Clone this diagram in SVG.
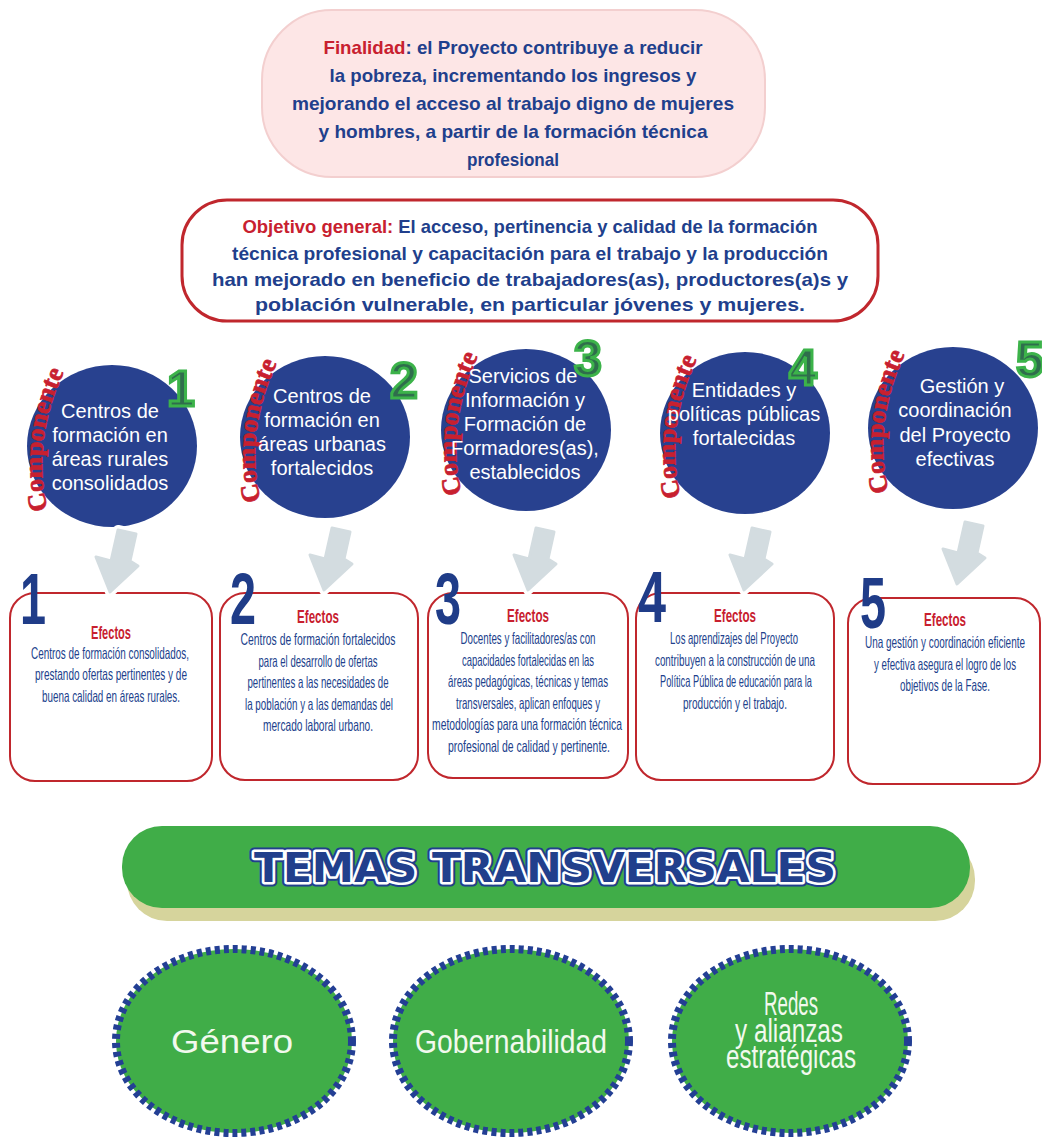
<svg xmlns="http://www.w3.org/2000/svg" width="1042" height="1137" viewBox="0 0 1042 1137">
<defs>
<style>
.nv{fill:#213f8c;font-family:"Liberation Sans",Arial,sans-serif;font-weight:bold;font-size:19px;text-anchor:middle}
.rd{fill:#c8202f}
.ct{fill:#fff;font-family:"Liberation Sans",Arial,sans-serif;font-size:20px;text-anchor:middle}
.comp{fill:#c8202f;stroke:#c8202f;stroke-width:0.7;font-family:"Liberation Serif","Times New Roman",serif;font-weight:bold;font-size:26px}
.badge{fill:#2f6e4c;stroke:#3cb34a;stroke-width:3;font-family:"Liberation Sans",Arial,sans-serif;font-weight:bold;font-size:50px;text-anchor:middle}
.circ{fill:#28418f}
.box{fill:#fff;stroke:#c0272d;stroke-width:2}
.big{fill:#1f3c88;font-family:"Liberation Sans",Arial,sans-serif;font-weight:bold;font-size:72px}
.ef{fill:#c8202f;font-family:"Liberation Sans",Arial,sans-serif;font-weight:bold;font-size:18px;text-anchor:middle}
.et{fill:#213f8c;font-family:"Liberation Sans",Arial,sans-serif;font-size:16.5px;text-anchor:middle}
.halo{fill:#fff;stroke:#fff;stroke-width:10;stroke-linejoin:round}
.arr{fill:#d3dce0;stroke:#d3dce0;stroke-width:3;stroke-linejoin:round}
.tc{fill:#40ad48;stroke:#233f94;stroke-width:8;stroke-dasharray:5 4}
.tt{fill:#f2f9ee;font-family:"Liberation Sans",Arial,sans-serif;font-size:33px;text-anchor:middle}
</style>
<path id="arw" d="M0,0 L18,4 L12,31 L20,36 L-8,62 L-22,27 L-7,31 Z"/>
<path id="cp1" d="M50,518 Q28,442 68,364"/>
<path id="cp2" d="M263,509 Q241,433 281,355"/>
<path id="cp3" d="M464,502 Q442,426 482,348"/>
<path id="cp4" d="M683,505 Q661,429 701,351"/>
<path id="cp5" d="M891,500 Q869,424 909,346"/>
</defs>
<rect width="1042" height="1137" fill="#fff"/>

<g id="finalidad">
<rect x="262" y="10" width="503" height="167" rx="70" fill="#fde6e6" stroke="#f3cfcf" stroke-width="2"/>
<text class="nv" x="513" y="54" textLength="379" lengthAdjust="spacingAndGlyphs"><tspan class="rd">Finalidad</tspan>: el Proyecto contribuye a reducir</text>
<text class="nv" x="513" y="82" textLength="367" lengthAdjust="spacingAndGlyphs">la pobreza, incrementando los ingresos y</text>
<text class="nv" x="513" y="110" textLength="442" lengthAdjust="spacingAndGlyphs">mejorando el acceso al trabajo digno de mujeres</text>
<text class="nv" x="513" y="138" textLength="389" lengthAdjust="spacingAndGlyphs">y hombres, a partir de la formación técnica</text>
<text class="nv" x="513" y="166" textLength="92" lengthAdjust="spacingAndGlyphs">profesional</text>
</g>

<g id="objetivo">
<rect x="182" y="200" width="696" height="121" rx="45" fill="#fff" stroke="#c0272d" stroke-width="3"/>
<text class="nv" x="530" y="233" textLength="575" lengthAdjust="spacingAndGlyphs"><tspan class="rd">Objetivo general:</tspan> El acceso, pertinencia y calidad de la formación</text>
<text class="nv" x="530" y="260" textLength="596" lengthAdjust="spacingAndGlyphs">técnica profesional y capacitación para el trabajo y la producción</text>
<text class="nv" x="530" y="286" textLength="636" lengthAdjust="spacingAndGlyphs">han mejorado en beneficio de trabajadores(as), productores(a)s y</text>
<text class="nv" x="530" y="311" textLength="550" lengthAdjust="spacingAndGlyphs">población vulnerable, en particular jóvenes y mujeres.</text>
</g>

<g id="comp1">
<ellipse class="circ" cx="112" cy="446" rx="85" ry="81"/>
<text class="comp"><textPath href="#cp1" startOffset="50%" text-anchor="middle">Componente</textPath></text>
<text class="badge" x="181" y="406">1</text>
<text class="ct" x="110" y="418">Centros de</text>
<text class="ct" x="110" y="442">formación en</text>
<text class="ct" x="110" y="466">áreas rurales</text>
<text class="ct" x="110" y="490">consolidados</text>
</g>
<g id="comp2">
<ellipse class="circ" cx="325" cy="437" rx="85" ry="81"/>
<text class="comp"><textPath href="#cp2" startOffset="50%" text-anchor="middle">Componente</textPath></text>
<text class="badge" x="404" y="398">2</text>
<text class="ct" x="322" y="403">Centros de</text>
<text class="ct" x="322" y="427">formación en</text>
<text class="ct" x="322" y="451">áreas urbanas</text>
<text class="ct" x="322" y="475">fortalecidos</text>
</g>
<g id="comp3">
<ellipse class="circ" cx="526" cy="430" rx="85" ry="81"/>
<text class="comp"><textPath href="#cp3" startOffset="50%" text-anchor="middle">Componente</textPath></text>
<text class="badge" x="588" y="376">3</text>
<text class="ct" x="523" y="383">Servicios de</text>
<text class="ct" x="525" y="407">Información y</text>
<text class="ct" x="525" y="431">Formación  de</text>
<text class="ct" x="525" y="455">Formadores(as),</text>
<text class="ct" x="525" y="479">establecidos</text>
</g>
<g id="comp4">
<ellipse class="circ" cx="745" cy="433" rx="85" ry="81"/>
<text class="comp"><textPath href="#cp4" startOffset="50%" text-anchor="middle">Componente</textPath></text>
<text class="badge" x="803" y="385">4</text>
<text class="ct" x="744" y="397">Entidades y</text>
<text class="ct" x="744" y="421">políticas públicas</text>
<text class="ct" x="744" y="445">fortalecidas</text>
</g>
<g id="comp5">
<ellipse class="circ" cx="953" cy="428" rx="85" ry="81"/>
<text class="comp"><textPath href="#cp5" startOffset="50%" text-anchor="middle">Componente</textPath></text>
<text class="badge" x="1030" y="377">5</text>
<text class="ct" x="962" y="393">Gestión y</text>
<text class="ct" x="955" y="417">coordinación</text>
<text class="ct" x="955" y="442">del Proyecto</text>
<text class="ct" x="955" y="466">efectivas</text>
</g>

<g id="efecto1">
<rect class="box" x="10" y="593" width="202" height="188" rx="25"/>
<text class="big" x="20" y="624" textLength="26" lengthAdjust="spacingAndGlyphs">1</text>
<text class="ef" x="111" y="639" textLength="40" lengthAdjust="spacingAndGlyphs">Efectos</text>
<text class="et" x="110" y="659" textLength="158" lengthAdjust="spacingAndGlyphs">Centros de formación consolidados,</text>
<text class="et" x="111" y="680" textLength="152" lengthAdjust="spacingAndGlyphs">prestando ofertas pertinentes  y de</text>
<text class="et" x="111" y="702" textLength="138" lengthAdjust="spacingAndGlyphs">buena calidad en áreas rurales.</text>
</g>
<g id="efecto2">
<rect class="box" x="220" y="593" width="198" height="187" rx="25"/>
<text class="big" x="230" y="624" textLength="26" lengthAdjust="spacingAndGlyphs">2</text>
<text class="ef" x="318" y="623" textLength="42" lengthAdjust="spacingAndGlyphs">Efectos</text>
<text class="et" x="318" y="645" textLength="155" lengthAdjust="spacingAndGlyphs">Centros de formación  fortalecidos</text>
<text class="et" x="318" y="666.5" textLength="119" lengthAdjust="spacingAndGlyphs">para el desarrollo de ofertas</text>
<text class="et" x="318" y="688" textLength="141" lengthAdjust="spacingAndGlyphs">pertinentes a las necesidades de</text>
<text class="et" x="319" y="709.5" textLength="148" lengthAdjust="spacingAndGlyphs">la población y a las demandas del</text>
<text class="et" x="318" y="731" textLength="110" lengthAdjust="spacingAndGlyphs">mercado laboral urbano.</text>
</g>
<g id="efecto3">
<rect class="box" x="428" y="593" width="200" height="185" rx="25"/>
<text class="big" x="435" y="624" textLength="26" lengthAdjust="spacingAndGlyphs">3</text>
<text class="ef" x="528" y="622" textLength="42" lengthAdjust="spacingAndGlyphs">Efectos</text>
<text class="et" x="528" y="644" textLength="135" lengthAdjust="spacingAndGlyphs">Docentes y facilitadores/as con</text>
<text class="et" x="528" y="665.5" textLength="132" lengthAdjust="spacingAndGlyphs">capacidades fortalecidas en las</text>
<text class="et" x="528" y="687" textLength="160" lengthAdjust="spacingAndGlyphs">áreas pedagógicas, técnicas y temas</text>
<text class="et" x="528" y="708.5" textLength="144" lengthAdjust="spacingAndGlyphs">transversales, aplican enfoques y</text>
<text class="et" x="527" y="730" textLength="190" lengthAdjust="spacingAndGlyphs">metodologías para una formación técnica</text>
<text class="et" x="529" y="751.5" textLength="162" lengthAdjust="spacingAndGlyphs">profesional de calidad y pertinente.</text>
</g>
<g id="efecto4">
<rect class="box" x="636" y="593" width="198" height="187" rx="25"/>
<text class="big" x="638" y="622" textLength="28" lengthAdjust="spacingAndGlyphs">4</text>
<text class="ef" x="735" y="622" textLength="42" lengthAdjust="spacingAndGlyphs">Efectos</text>
<text class="et" x="734" y="644" textLength="128" lengthAdjust="spacingAndGlyphs">Los aprendizajes del Proyecto</text>
<text class="et" x="735" y="665.5" textLength="160" lengthAdjust="spacingAndGlyphs">contribuyen a la construcción de una</text>
<text class="et" x="736" y="687" textLength="152" lengthAdjust="spacingAndGlyphs">Política Pública de educación para la</text>
<text class="et" x="735" y="708.5" textLength="104" lengthAdjust="spacingAndGlyphs">producción y el trabajo.</text>
</g>
<g id="efecto5">
<rect class="box" x="848" y="598" width="192" height="186" rx="25"/>
<text class="big" x="860" y="628" textLength="26" lengthAdjust="spacingAndGlyphs">5</text>
<text class="ef" x="945" y="626" textLength="42" lengthAdjust="spacingAndGlyphs">Efectos</text>
<text class="et" x="945" y="648" textLength="160" lengthAdjust="spacingAndGlyphs">Una gestión y coordinación eficiente</text>
<text class="et" x="945" y="669.5" textLength="142" lengthAdjust="spacingAndGlyphs">y efectiva asegura el logro de los</text>
<text class="et" x="945" y="691" textLength="90" lengthAdjust="spacingAndGlyphs">objetivos de la Fase.</text>
</g>

<g id="connectors">
<use href="#arw" class="halo" x="118" y="530"/>
<use href="#arw" class="arr" x="118" y="530"/>
<use href="#arw" class="halo" x="332" y="528"/>
<use href="#arw" class="arr" x="332" y="528"/>
<use href="#arw" class="halo" x="536" y="528"/>
<use href="#arw" class="arr" x="536" y="528"/>
<use href="#arw" class="halo" x="752" y="528"/>
<use href="#arw" class="arr" x="752" y="528"/>
<use href="#arw" class="halo" x="965" y="522"/>
<use href="#arw" class="arr" x="965" y="522"/>
</g>

<g id="temas">
<rect x="127" y="839" width="848" height="82" rx="40" fill="#d6d49c"/>
<rect x="122" y="826" width="848" height="82" rx="40" fill="#40ad48"/>
<text x="545" y="882" text-anchor="middle" font-family="'DejaVu Sans',sans-serif" font-weight="bold" font-size="40" textLength="582" lengthAdjust="spacingAndGlyphs" fill="#213f8c" stroke="#213f8c" stroke-width="9" stroke-linejoin="round">TEMAS TRANSVERSALES</text>
<text x="545" y="882" text-anchor="middle" font-family="'DejaVu Sans',sans-serif" font-weight="bold" font-size="40" textLength="582" lengthAdjust="spacingAndGlyphs" fill="#213f8c" stroke="#fff" stroke-width="5" stroke-linejoin="round" paint-order="stroke">TEMAS TRANSVERSALES</text>
</g>

<g id="genero">
<ellipse class="tc" cx="234" cy="1041" rx="118" ry="92"/>
<text class="tt" x="232" y="1053" textLength="122" lengthAdjust="spacingAndGlyphs">Género</text>
</g>
<g id="gobernabilidad">
<ellipse class="tc" cx="511" cy="1041" rx="118" ry="92"/>
<text class="tt" x="511" y="1053" textLength="192" lengthAdjust="spacingAndGlyphs">Gobernabilidad</text>
</g>
<g id="redes">
<ellipse class="tc" cx="790" cy="1041" rx="118" ry="92"/>
<text class="tt" x="791" y="1015" font-size="30" textLength="54" lengthAdjust="spacingAndGlyphs">Redes</text>
<text class="tt" x="789" y="1042" font-size="30" textLength="108" lengthAdjust="spacingAndGlyphs">y alianzas</text>
<text class="tt" x="791" y="1068" font-size="30" textLength="130" lengthAdjust="spacingAndGlyphs">estratégicas</text>
</g>
</svg>
